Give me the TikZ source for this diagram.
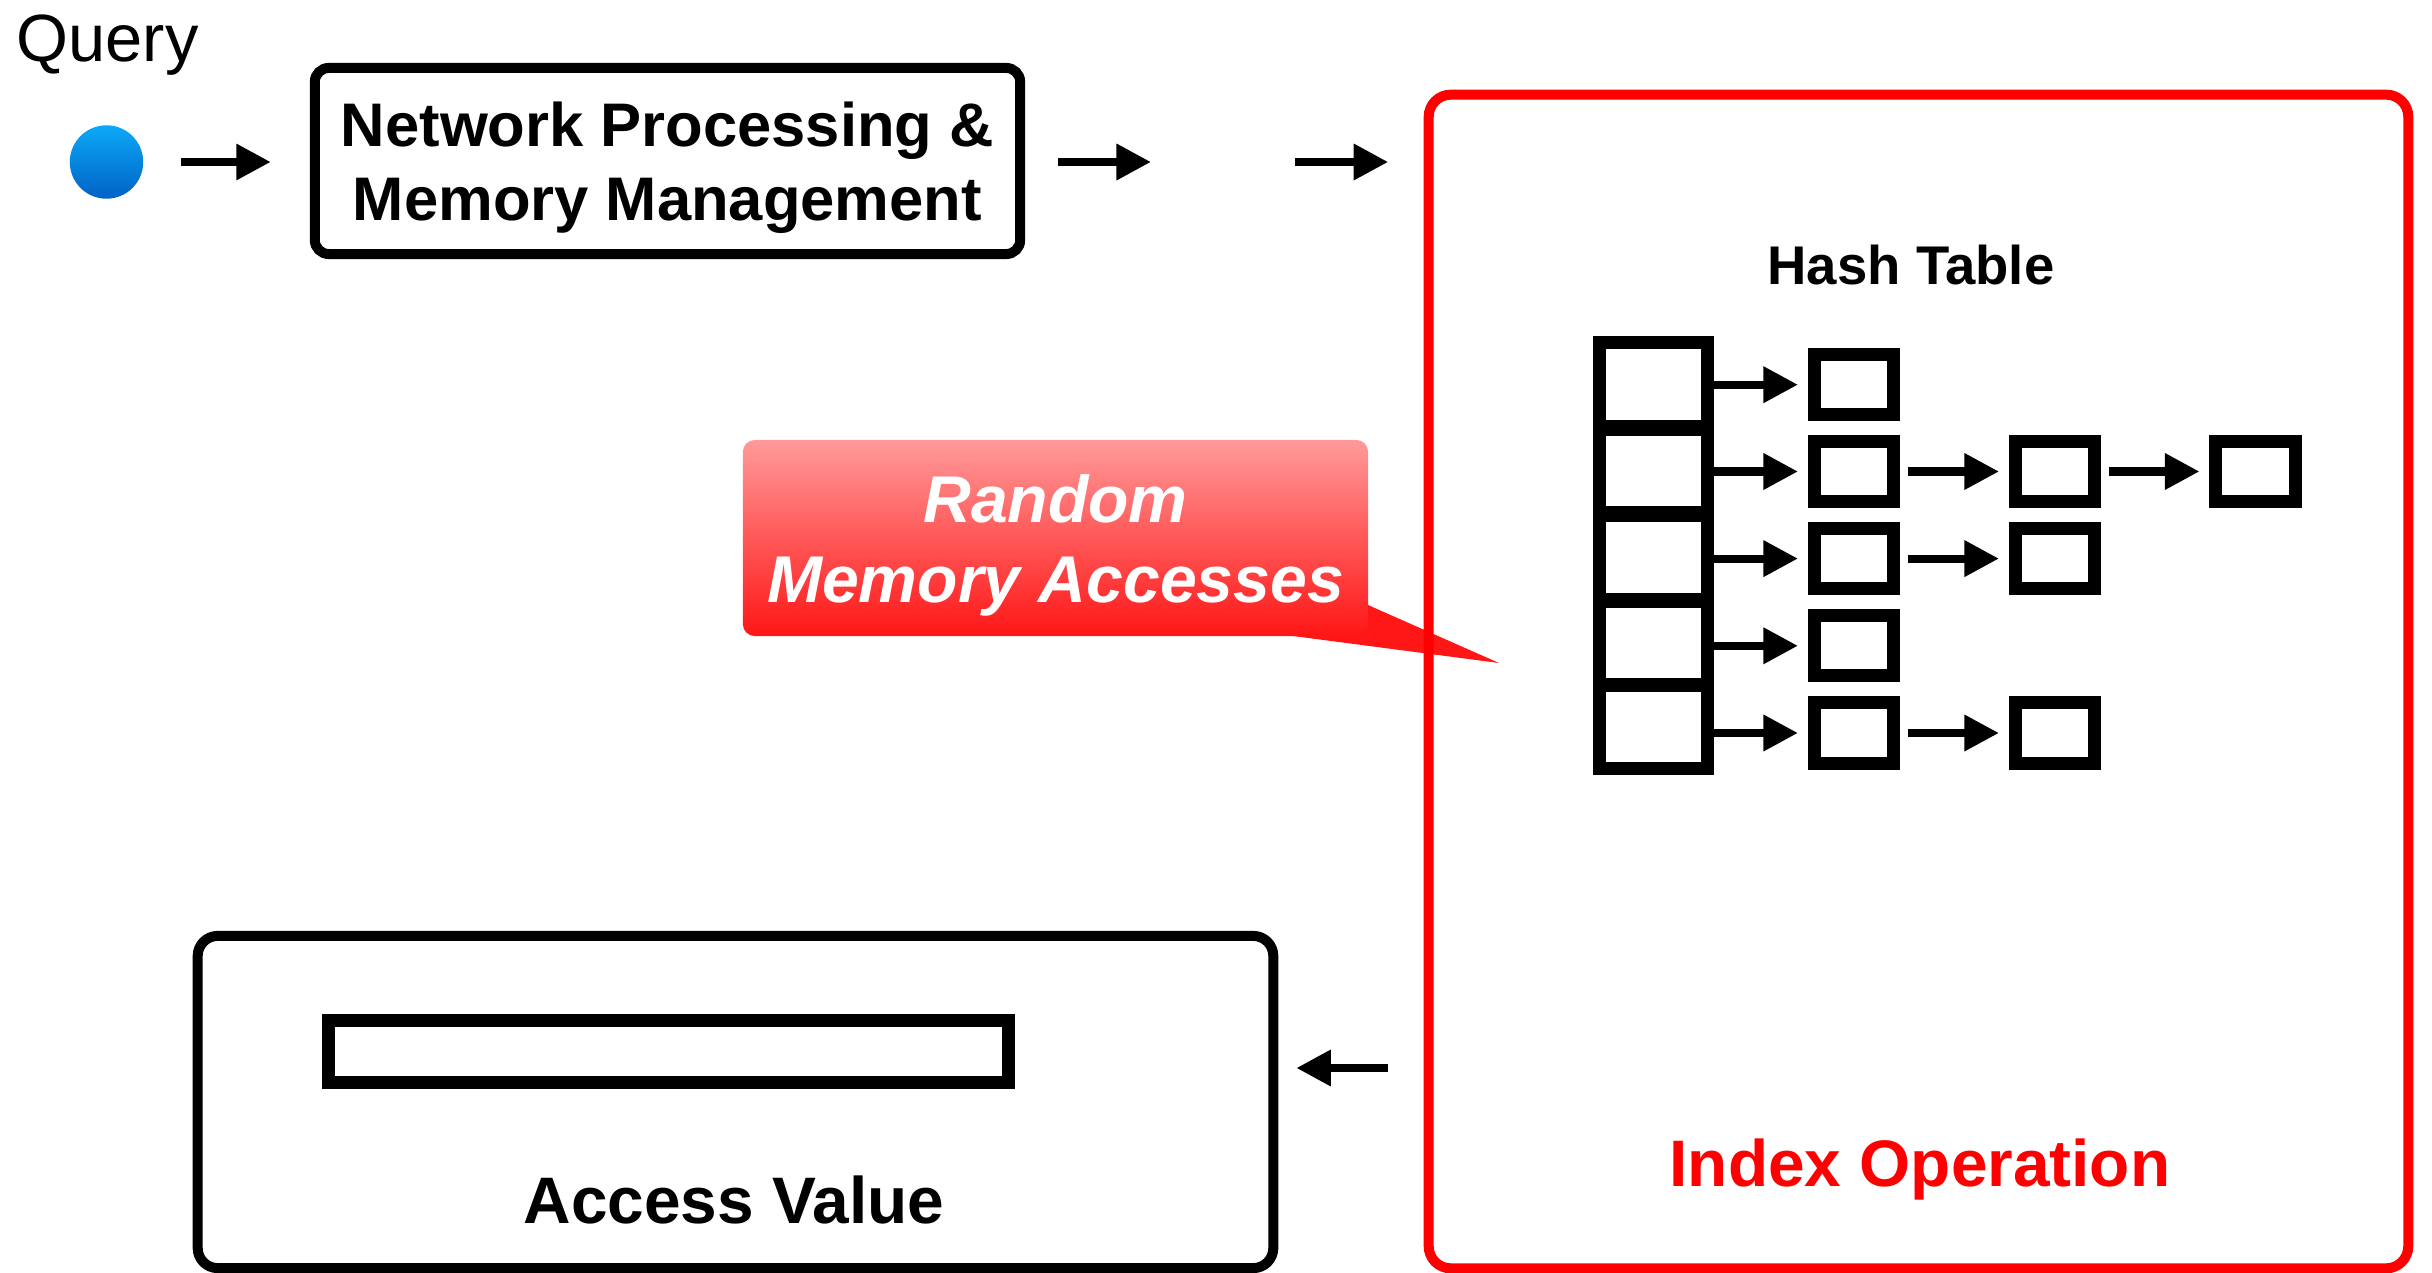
\documentclass[tikz,border=0pt]{standalone}
\usepackage{fontspec}
\setmainfont{Liberation Sans}
\usetikzlibrary{arrows.meta,calc}
\definecolor{boxred}{HTML}{FF0000}
\definecolor{qtop}{HTML}{0CA9F7}
\definecolor{qbot}{HTML}{0062C6}
\definecolor{calltop}{HTML}{FF9A9A}
\definecolor{callbot}{HTML}{FF1616}
\begin{document}
\begin{tikzpicture}[x=0.01cm,y=-0.01cm,
  arr/.style={line width=0.08cm,-{Triangle[length=0.345cm,width=0.345cm]}},
  frame/.style={draw,line width=0.1cm,rounded corners=0.14cm,inner sep=0pt},
  cell/.style={draw,line width=0.13cm,inner sep=0pt,minimum width=0.79cm,minimum height=0.60cm},
  bucket/.style={draw,line width=0.13cm,inner sep=0pt,minimum width=1.08cm,minimum height=0.83cm},
  bigbold/.style={font=\bfseries\fontsize{18.7pt}{22pt}\selectfont},
]
\useasboundingbox (0,0) rectangle (2432,1273);

% query
\node[font=\fontsize{19pt}{22pt}\selectfont, anchor=base west, inner sep=0pt] (query) at (16,62) {Query};
\node[circle, minimum size=0.734cm, inner sep=0pt, top color=qtop, bottom color=qbot] (q) at (106.5,162) {};

% network box
\node[frame, minimum width=7.05cm, minimum height=1.86cm, align=center,
      font=\bfseries\fontsize{17.5pt}{21pt}\selectfont] (net) at (667.5,161)
  {\rule{0pt}{16.5pt}Network Processing \&\\Memory Management};

% callout
\coordinate (tip) at (1499,663);
\fill[callbot] (1368,605) -- (tip) -- (1293,636) -- cycle;
\node[rounded corners=0.12cm, inner sep=0pt, minimum width=6.25cm, minimum height=1.96cm,
      top color=calltop, bottom color=callbot, text=white, align=center,
      font=\bfseries\itshape\fontsize{18.8pt}{22.8pt}\selectfont] (callout) at (1055.5,538)
  {\rule{0pt}{17.8pt}Random\\Memory Accesses};

% index operation box
\node[frame, draw=boxred, rounded corners=0.22cm, minimum width=9.79cm, minimum height=11.73cm] (idx) at (1918.5,681.5) {};
\node[font=\bfseries\fontsize{15.5pt}{18pt}\selectfont, anchor=base, inner sep=0pt] (ht) at (1911,285) {Hash Table};
\node[bigbold, text=boxred, anchor=base, inner sep=0pt] (iop) at (1920,1186) {Index Operation};

% hash table buckets
\foreach \i/\y in {1/384.5,2/471,3/557.5,4/643,5/727}
  \node[bucket] (b\i) at (1653.5,\y) {};
% chained entries
\node[cell] (c11) at (1854,384.7) {};
\node[cell] (c21) at (1854,471.5) {};
\node[cell] (c22) at (2055,471.5) {};
\node[cell] (c23) at (2255.5,471.5) {};
\node[cell] (c31) at (1854,558.6) {};
\node[cell] (c32) at (2055,558.6) {};
\node[cell] (c41) at (1854,645.8) {};
\node[cell] (c51) at (1854,733) {};
\node[cell] (c52) at (2055,733) {};

\foreach \i in {1,...,5}
  \draw[arr, shorten >=0.1cm] (b\i.east |- c\i1) -- (c\i1);
\draw[arr, shorten <=0.08cm, shorten >=0.1cm] (c21) -- (c22);
\draw[arr, shorten <=0.08cm, shorten >=0.1cm] (c22) -- (c23);
\draw[arr, shorten <=0.08cm, shorten >=0.1cm] (c31) -- (c32);
\draw[arr, shorten <=0.08cm, shorten >=0.1cm] (c51) -- (c52);

% access value box
\node[frame, rounded corners=0.2cm, minimum width=10.75cm, minimum height=3.32cm] (acc) at (735.5,1102) {};
\node[draw, line width=0.13cm, inner sep=0pt, minimum width=6.8cm, minimum height=0.62cm] (bar) at (668.5,1051.5) {};
\node[bigbold, anchor=base, inner sep=0pt] (av) at (734,1223) {Access Value};

% top arrows
\coordinate (gapA) at (1151,162);
\coordinate (gapB) at (1295,162);
\draw[arr, shorten <=0.37cm, shorten >=0.39cm] (q) -- (net.west |- q);
\draw[arr, shorten <=0.33cm] (net.east |- q) -- (gapA);
\draw[arr, shorten >=0.355cm] (gapB) -- (idx.west |- q);

% return arrow
\coordinate (ret) at (0,1068);
\draw[arr, shorten <=0.355cm, shorten >=0.18cm] (idx.west |- ret) -- (acc.east |- ret);
\end{tikzpicture}
\end{document}
